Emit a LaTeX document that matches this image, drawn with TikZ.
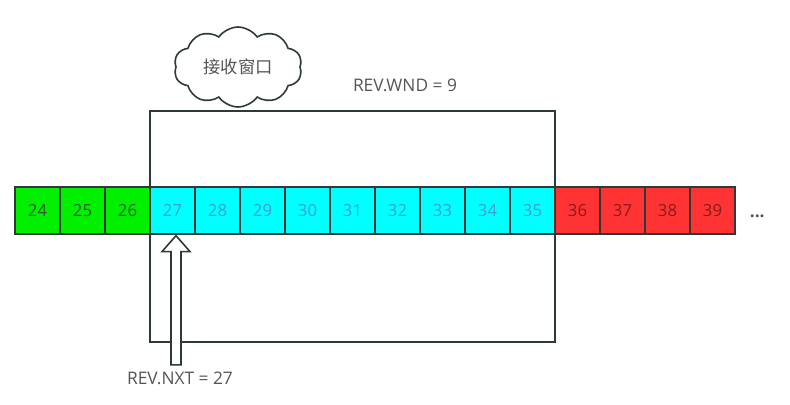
\documentclass[tikz,border=0pt]{standalone}
\usepackage{fontspec}
\setmainfont{Open Sans}
\newfontfamily\cjk{Noto Sans CJK SC}
\usepackage{xcolor}
\usetikzlibrary{shapes.symbols, positioning, calc}

\definecolor{edgegray}{HTML}{2E3A3A}
\definecolor{labelgray}{HTML}{555555}
\definecolor{seenfill}{HTML}{00F000}
\definecolor{seentext}{HTML}{2A5E2A}
\definecolor{winfill}{HTML}{00FFFF}
\definecolor{wintext}{HTML}{3E9FD0}
\definecolor{todofill}{HTML}{FF3333}
\definecolor{todotext}{HTML}{8A1A1A}

\begin{document}
\begin{tikzpicture}[
    x=0.75pt, y=-0.75pt,
    cell/.style={rectangle, draw=edgegray, line width=1.2pt, minimum width=33.75pt, minimum height=35pt, inner sep=0pt, font=\fontsize{12.5}{14}\selectfont},
    seen/.style={cell, fill=seenfill, text=seentext},
    inwin/.style={cell, fill=winfill, text=wintext},
    todo/.style={cell, fill=todofill, text=todotext},
    lbl/.style={text=labelgray, font=\fontsize{13}{15}\selectfont},
    winbox/.style={draw=edgegray, line width=1.2pt}
]
    \useasboundingbox (0,0) rectangle (790,404);

    % receive window
    \coordinate (wintop) at (0,111);
    \coordinate (winbot) at (0,342);
    \draw[winbox] (150,0 |- wintop) rectangle (555,0 |- winbot);

    % sequence cells
    \foreach \n [count=\i from 0] in {24,25,26}
        \node[seen] (c\n) at (37.5+\i*45, 210.5) {\n};
    \foreach \n [count=\i from 3] in {27,...,35}
        \node[inwin] (c\n) at (37.5+\i*45, 210.5) {\n};
    \foreach \n [count=\i from 12] in {36,...,39}
        \node[todo] (c\n) at (37.5+\i*45, 210.5) {\n};
    \node[lbl, right=7pt of c39, yshift=-4pt] (more) {\textbf{...}};

    \node[cloud, draw=edgegray, line width=1.2pt, cloud puffs=10, cloud puff arc=110, aspect=1.7, minimum width=96pt, minimum height=60pt, inner sep=0pt, text=labelgray, font=\cjk\fontsize{13}{15}\selectfont] (cloud) at (238,67) {接收窗口};
    \node[lbl] (wnd) at (405,85) {REV.WND = 9};

    % next expected byte
    \node[lbl] (nxt) at (180,378) {REV.NXT = 27};
    \coordinate (tip) at ($(c27.south)+(3.5,1)$);
    \draw[edgegray, line width=1.2pt, fill=white, line join=miter]
        (tip) -- ++(14,16) -- ++(-9,0) |- ($(nxt.north)+(1,-2)$) -- ++(-10,0) |- ($(tip)+(-14,16)$) -- cycle;
\end{tikzpicture}
\end{document}
